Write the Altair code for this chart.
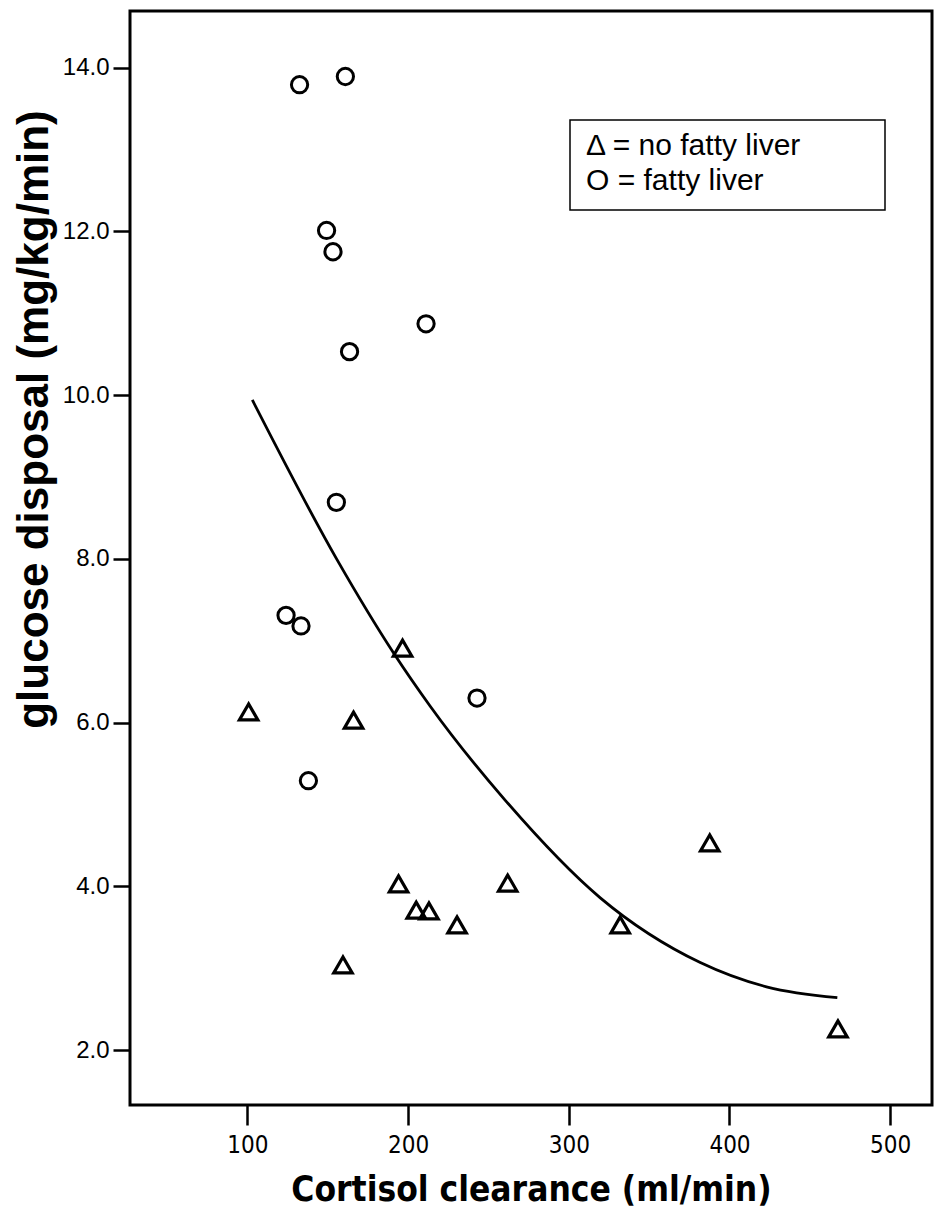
import altair as alt
import pandas as pd

# ---- data ----
fatty_x = [132.5, 161.0, 149.3, 153.3, 211.2, 163.6, 155.4, 124.1, 133.4, 242.9, 138.0]
fatty_y = [13.79, 13.89, 12.01, 11.75, 10.87, 10.53, 8.69, 7.31, 7.18, 6.30, 5.29]

nofatty_x = [100.8, 166.1, 196.6, 194.1, 205.1, 213.0, 230.5, 159.5, 262.0, 332.0, 387.7, 467.5]
nofatty_y = [6.13, 6.03, 6.91, 4.03, 3.71, 3.70, 3.53, 3.04, 4.04, 3.53, 4.53, 2.26]

curve_x = [103.1, 155.8, 191.0, 213.8, 260.1, 319.6, 381.8, 423.6, 467.1]
curve_y = [9.94, 7.99, 6.85, 6.20, 5.06, 3.86, 3.07, 2.77, 2.64]

x_ticks = [100, 200, 300, 400, 500]
y_ticks = [2, 4, 6, 8, 10, 12, 14]
legend_lines = ["\u0394 = no fatty liver", "O = fatty liver"]
x_title = "Cortisol clearance (ml/min)"
y_title = "glucose disposal (mg/kg/min)"

fatty = pd.DataFrame({"x": fatty_x, "y": fatty_y})
nofatty = pd.DataFrame({"x": nofatty_x, "y": nofatty_y})
curve = pd.DataFrame({"x": curve_x, "y": curve_y})

NARROW = "DejaVu Sans Condensed"
REG = "Liberation Sans"

x_enc = alt.X(
    "x:Q",
    scale=alt.Scale(domain=[27, 526], nice=False, zero=False),
    axis=alt.Axis(
        values=x_ticks, format="d", grid=False, domain=False,
        tickSize=20, tickWidth=2.5, tickColor="black",
        labelFont=NARROW, labelFontSize=24, labelColor="black", labelPadding=8,
        title=x_title, titleFont=NARROW, titleFontSize=35, titleFontWeight="bold",
        titleColor="black", titleY=95, titleBaseline="alphabetic",
    ),
)
y_enc = alt.Y(
    "y:Q",
    scale=alt.Scale(domain=[1.33, 14.69], nice=False, zero=False),
    axis=alt.Axis(
        values=y_ticks, format=".1f", grid=False, domain=False,
        tickSize=17, tickWidth=2.5, tickColor="black",
        labelFont=REG, labelFontSize=24, labelColor="black", labelPadding=4,
        title=y_title, titleFont=REG, titleFontSize=44, titleFontWeight="bold",
        titleColor="black", titleX=-96, titleY=408, titleAngle=270,
        titleAlign="center", titleBaseline="middle",
    ),
)

circles = alt.Chart(fatty).mark_point(
    shape="circle", filled=False, color="black", size=265, strokeWidth=3, opacity=1
).encode(x=x_enc, y=y_enc)

triangles = alt.Chart(nofatty).mark_point(
    shape="triangle-up", filled=False, color="black", size=340, strokeWidth=3.2, opacity=1
).encode(x=x_enc, y=y_enc)

line = alt.Chart(curve).mark_line(
    color="black", strokeWidth=2.8, interpolate="monotone"
).encode(x=x_enc, y=y_enc)

# legend box and text (pixel positions relative to the plot area)
one = pd.DataFrame({"k": [0]})
box = alt.Chart(one).mark_rect(
    fill="white", fillOpacity=0, stroke="black", strokeWidth=1.5
).encode(x=alt.value(440), x2=alt.value(755), y=alt.value(109), y2=alt.value(199))

t1 = alt.Chart(one).mark_text(
    text=legend_lines[0], align="left", baseline="alphabetic",
    font=REG, fontSize=30, color="black"
).encode(x=alt.value(456), y=alt.value(144))
t2 = alt.Chart(one).mark_text(
    text=legend_lines[1], align="left", baseline="alphabetic",
    font=REG, fontSize=30, color="black"
).encode(x=alt.value(456), y=alt.value(179))

chart = alt.layer(line, circles, triangles, box, t1, t2).properties(
    width=802, height=1094,
    autosize=alt.AutoSizeParams(type="none"),
    padding={"left": 130, "top": 11, "right": 5, "bottom": 110},
    background="white",
).configure_view(stroke="black", strokeWidth=3)

chart.save("out.html", embed_options={"renderer": "svg", "actions": False})
